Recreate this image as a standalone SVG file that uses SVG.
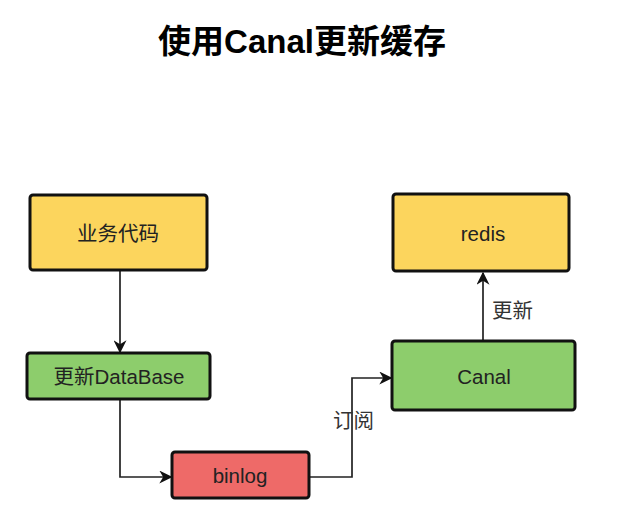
<svg xmlns="http://www.w3.org/2000/svg" width="630" height="530" viewBox="0 0 630 530">
<style>
.box{stroke:#111;stroke-width:3}
.y{fill:#FCD55D}
.g{fill:#8DCD6C}
.r{fill:#EE6A68}
.t{font-family:"Liberation Sans","Noto Sans CJK SC",sans-serif;font-size:20.5px;fill:#222;text-anchor:middle;dominant-baseline:central}
.lbl{font-family:"Liberation Sans","Noto Sans CJK SC",sans-serif;font-size:20.5px;fill:#333}
.title{font-family:"Liberation Sans","Noto Sans CJK SC",sans-serif;font-size:33px;font-weight:bold;fill:#000;text-anchor:middle}
.c{fill:none;stroke:#222;stroke-width:1.7}
</style>
<defs>
<marker id="arrL" viewBox="0 0 10 10" refX="9" refY="5" markerWidth="13" markerHeight="13" orient="auto" markerUnits="userSpaceOnUse">
<path d="M0,0 L10,5 L0,10 L3,5 z" fill="#111"/>
</marker>
</defs>
<rect width="630" height="530" fill="#fff"/>
<text class="title" x="302" y="53">使用Canal更新缓存</text>
<g id="connectors">
<path class="c" d="M120,271 V352" marker-end="url(#arrL)" stroke="#555"/>
<path class="c" d="M120,399 V477 H171" marker-end="url(#arrL)"/>
<path class="c" d="M309,477 H352 V378 H391" marker-end="url(#arrL)"/>
<path class="c" d="M483,341 V273" marker-end="url(#arrL)"/>
<text class="lbl" x="492" y="318">更新</text>
<text class="lbl" x="333" y="428">订阅</text>
</g>
<g id="node-business">
<rect class="box y" x="30" y="195" width="177" height="75" rx="3"/>
<text class="t" x="118" y="233">业务代码</text>
</g>
<g id="node-database">
<rect class="box g" x="27" y="353" width="183" height="46" rx="3"/>
<text class="t" x="119" y="376">更新DataBase</text>
</g>
<g id="node-binlog">
<rect class="box r" x="172" y="452" width="137" height="46" rx="3"/>
<text class="t" x="240" y="475">binlog</text>
</g>
<g id="node-canal">
<rect class="box g" x="392" y="341" width="183" height="69" rx="3"/>
<text class="t" x="484" y="376">Canal</text>
</g>
<g id="node-redis">
<rect class="box y" x="393" y="194" width="176" height="77" rx="3"/>
<text class="t" x="483" y="233">redis</text>
</g>
</svg>
